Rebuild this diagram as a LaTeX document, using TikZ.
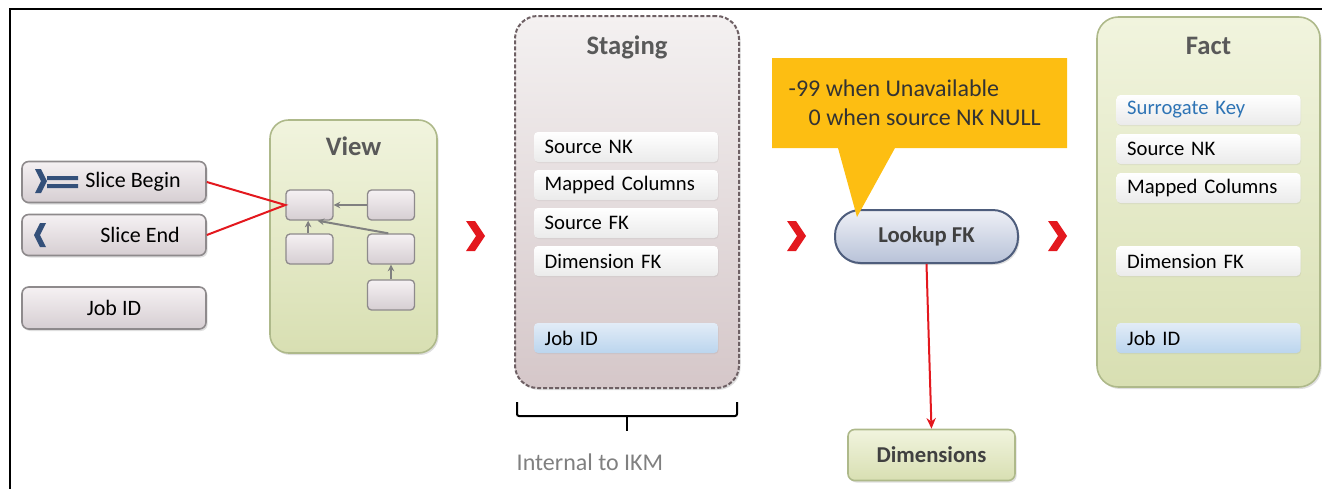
\documentclass[tikz,border=0pt]{standalone}
\usepackage{fontspec}
\setmainfont{Carlito}
\usetikzlibrary{arrows.meta, positioning, shadows}

\definecolor{lineGrey}{HTML}{8E8A8C}
\definecolor{lavTop}{HTML}{F5F1F3}
\definecolor{lavBot}{HTML}{D6CED2}
\definecolor{greenTop}{HTML}{F1F4DE}
\definecolor{greenBot}{HTML}{D8DFB2}
\definecolor{greenLine}{HTML}{AEB98A}
\definecolor{stageTop}{HTML}{F4F1F1}
\definecolor{stageBot}{HTML}{D5C7C9}
\definecolor{stageLine}{HTML}{6E6064}
\definecolor{blueTop}{HTML}{E2ECF7}
\definecolor{blueBot}{HTML}{BBD5EE}
\definecolor{lookTop}{HTML}{EEF0F6}
\definecolor{lookBot}{HTML}{B8C2D8}
\definecolor{lookLine}{HTML}{4E5D7C}
\definecolor{iconBlue}{HTML}{34507A}
\definecolor{chevRed}{HTML}{E3181E}
\definecolor{callYellow}{HTML}{FDBE12}
\definecolor{titleGrey}{HTML}{595959}
\definecolor{keyBlue}{HTML}{2E74B5}

\begin{document}
\begin{tikzpicture}[x=0.75pt, y=-0.75pt,
    px/.style 2 args={minimum width=#1*0.75pt, minimum height=#2*0.75pt},
    shade/.style={drop shadow={shadow xshift=1.2pt, shadow yshift=-1.5pt, opacity=.25}},
    inbox/.style={draw=lineGrey, line width=1.2pt, rounded corners=5pt,
        top color=lavTop, bottom color=lavBot, shade, inner sep=0pt},
    mini/.style={draw=lineGrey, line width=1pt, rounded corners=3pt,
        top color=lavTop, bottom color=lavBot, px={47}{30}, inner sep=0pt},
    greenbox/.style={draw=greenLine, line width=1.2pt, top color=greenTop,
        bottom color=greenBot, shade, inner sep=0pt},
    item/.style={rounded corners=3pt, top color=white, bottom color=black!8,
        drop shadow={shadow xshift=.5pt, shadow yshift=-.8pt, opacity=.12},
        minimum height=22.5pt, text width=122pt, inner xsep=8pt, align=left,
        font=\fontsize{15.5}{17}\selectfont},
    jobitem/.style={item, top color=blueTop, bottom color=blueBot},
    title/.style={font=\bfseries\fontsize{20}{22}\selectfont, text=titleGrey},
    intext/.style={font=\fontsize{16.5}{18}\selectfont},
    redline/.style={draw=chevRed, line width=1.5pt},
    viewarrow/.style={draw=gray, line width=1.5pt, -{Stealth[length=5pt,width=5pt]}}]

  \useasboundingbox (0,0) rectangle (1322,489);
  \draw[line width=1.3pt] (10,489) -- (10,9) -- (1322,9);

  % inputs
  \node[inbox, px={184}{41}] (sb) at (114,182) {};
  \node[intext] (sbt) at (133,182) {Slice Begin};
  \node[inbox, px={184}{41}] (se) at (114,235) {};
  \node[intext] (set) at (140,235) {Slice End};
  \node[inbox, px={184}{42}, intext] (job) at (114,308) {Job ID};
  \fill[iconBlue] (35,169) -- (41,169) -- (47,181) -- (41,193) -- (35,193) -- (41,181) -- cycle;
  \fill[iconBlue] (47,176) rectangle (78,180) (47,184) rectangle (78,188);
  \fill[iconBlue] (46,223) -- (40,223) -- (34,235) -- (40,247) -- (46,247) -- (40,235) -- cycle;

  % view
  \node[greenbox, rounded corners=14pt, px={167}{233}] (view) at (353.5,236.5) {};
  \node[title] (viewt) at (353.5,146) {View};
  \node[mini] (va) at (309.5,205) {};
  \node[mini] (vb) at (391,205) {};
  \node[mini] (vc) at (309.5,249) {};
  \node[mini] (vd) at (391,249) {};
  \node[mini] (ve) at (391,295) {};
  \draw[viewarrow] (vb) -- (va);
  \draw[viewarrow] ([xshift=-2pt]vd.north) -- ([xshift=6pt]va.south);
  \draw[viewarrow] ([xshift=-1pt]vc.north) -- ([xshift=-1pt]va.south);
  \draw[viewarrow] (ve) -- (vd);
  \draw[redline] (sb.east) -- (va.west) -- (se.east);

  % flow chevrons
  \foreach \cx in {466, 787, 1048}
    \fill[chevRed] (\cx,221) -- ++(9,0) -- ++(10,15) -- ++(-10,15) -- ++(-9,0) -- ++(10,-15) -- cycle;

  % staging
  \node[draw=stageLine, line width=1.5pt, dash pattern=on 3pt off 1.5pt,
        rounded corners=17pt, top color=stageTop, bottom color=stageBot,
        shade, px={224}{372}] (staging) at (627,202) {};
  \node[title] (stagingt) at (627,47) {Staging};
  \node[item] (snk) at (626,147) {Source NK};
  \node[item] (smc) at (626,185) {Mapped Columns};
  \node[item] (sfk) at (626,223) {Source FK};
  \node[item] (sdf) at (626,261) {Dimension FK};
  \node[jobitem] (sjob) at (626,338) {Job ID};
  \draw[line width=1.5pt, rounded corners=1.5pt] (517,402) -- (517,416) -- (737,416) -- (737,402);
  \draw[line width=1.5pt] (627,416) -- (627,431);
  \node[font=\fontsize{18}{20}\selectfont, text=black!50, anchor=west] (ikm) at (512,462) {Internal to IKM};

  % lookup
  \node[draw=lookLine, line width=1.5pt, rounded corners=19pt, top color=lookTop,
        bottom color=lookBot, shade, px={183}{53}, text=black!75,
        font=\bfseries\fontsize{17}{19}\selectfont] (lookup) at (926.5,236.5) {Lookup FK};
  \fill[callYellow] (772,58) -- (1067,58) -- (1067,148) -- (895,148) -- (857,217) -- (838,148) -- (772,148) -- cycle;
  \node[font=\fontsize{18}{20}\selectfont, text=black!80, anchor=west] (c1) at (784,88) {-99 when Unavailable};
  \node[font=\fontsize{18}{20}\selectfont, text=black!80, anchor=west] (c2) at (804,117) {0 when source NK NULL};
  \node[greenbox, rounded corners=5pt, px={167}{51}, text=black!75,
        font=\bfseries\fontsize{17}{19}\selectfont] (dims) at (931.5,455) {Dimensions};
  \draw[redline, -{Stealth[length=8pt,width=7pt]}] (lookup.south) -- (dims.north);

  % fact
  \node[greenbox, rounded corners=16pt, px={223}{370}] (fact) at (1208.5,202) {};
  \node[title] (factt) at (1208.5,46) {Fact};
  \node[item, text=keyBlue] (fsk) at (1208.5,110) {Surrogate Key};
  \node[item] (fnk) at (1208.5,149) {Source NK};
  \node[item] (fmc) at (1208.5,188) {Mapped Columns};
  \node[item] (fdf) at (1208.5,261) {Dimension FK};
  \node[jobitem] (fjob) at (1208.5,338) {Job ID};
\end{tikzpicture}
\end{document}
